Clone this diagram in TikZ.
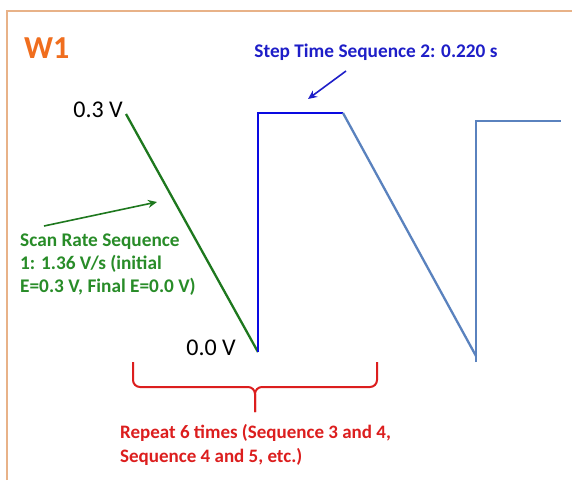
\documentclass[tikz,border=0pt]{standalone}
\usepackage{fontspec}
\setmainfont{Carlito}
\usetikzlibrary{arrows.meta}
\definecolor{frameorange}{RGB}{232,178,136}
\definecolor{titleorange}{RGB}{240,110,30}
\definecolor{scangreen}{RGB}{30,120,30}
\definecolor{textgreen}{RGB}{40,140,40}
\definecolor{stepblue}{RGB}{10,10,225}
\definecolor{textblue}{RGB}{30,30,200}
\definecolor{steelblue}{RGB}{90,130,190}
\definecolor{repeatred}{RGB}{220,30,30}
\tikzset{
  wave/.style={line width=2.3pt, line join=miter},
  pointer/.style={line width=1.6pt, -{Stealth[length=9pt,width=8pt]}},
  lbl/.style={inner sep=0pt, font=\fontsize{24}{28}\selectfont},
  note/.style={inner sep=0pt, font=\bfseries\fontsize{19.3}{22.8}\selectfont, align=left},
}
\begin{document}
\begin{tikzpicture}[x=1pt, y=-1pt]
  \useasboundingbox (0,0) rectangle (572,480);
  \fill[white] (0,0) rectangle (572,480);
  % slide frame
  \draw[frameorange, line width=2pt] (7,480) -- (7,11) -- (572,11);

  % title
  \node[inner sep=0pt, anchor=west, text=titleorange, font=\bfseries\fontsize{32}{36}\selectfont] (title) at (24,48) {W1};

  % waveform corners
  \coordinate (v03) at (126,114);
  \coordinate (v00) at (258,352);
  \coordinate (stepTop) at (258,113);
  \coordinate (stepEnd) at (343,113);
  \coordinate (low2) at (476,356);
  \coordinate (low2b) at (476,362);
  \coordinate (step2Top) at (476,121);
  \coordinate (step2End) at (561,121);

  % sequence 1: linear scan
  \draw[wave, scangreen] (v03) -- (v00);
  % sequence 2: potential step
  \draw[wave, stepblue] (v00) -- (stepTop) -- (stepEnd);
  % following sequences
  \draw[wave, steelblue] (stepEnd) -- (low2);
  \draw[wave, steelblue] (low2b) -- (step2Top) -- (step2End);

  % potential labels
  \node[lbl, anchor=east] (l03) at (123,110) {0.3 V};
  \node[lbl, anchor=east] (l00) at (236,348) {0.0 V};

  % step time annotation
  \node[note, text=textblue, anchor=center] (steptxt) at (376,52) {Step Time Sequence 2: 0.220 s};
  \coordinate (stepTail) at (346,71);
  \coordinate (stepHead) at (308,99);
  \draw[pointer, textblue] (stepTail) -- (stepHead);

  % scan rate annotation
  \node[note, text=textgreen, anchor=north west] (scantxt) at (20,234)
    {Scan Rate Sequence\\1: 1.36 V/s (initial\\E=0.3 V, Final E=0.0 V)};
  \coordinate (scanTail) at (44,226);
  \coordinate (scanHead) at (157,202);
  \draw[pointer, scangreen] (scanTail) -- (scanHead);

  % repeat brace
  \coordinate (braceL) at (133,362);
  \coordinate (braceR) at (377,362);
  \coordinate (braceMid) at (255,387);
  \coordinate (braceTip) at (255,412);
  \draw[repeatred, line width=2pt, rounded corners=7pt] (braceL) -- (133,387) -- (braceMid) -- (braceTip);
  \draw[repeatred, line width=2pt, rounded corners=7pt] (braceR) -- (377,387) -- (braceMid) -- (braceTip);
  \node[note, text=repeatred, anchor=north west, font=\bfseries\fontsize{19}{24}\selectfont] (reptxt) at (120,424)
    {Repeat 6 times (Sequence 3 and 4,\\Sequence 4 and 5, etc.)};
\end{tikzpicture}
\end{document}
